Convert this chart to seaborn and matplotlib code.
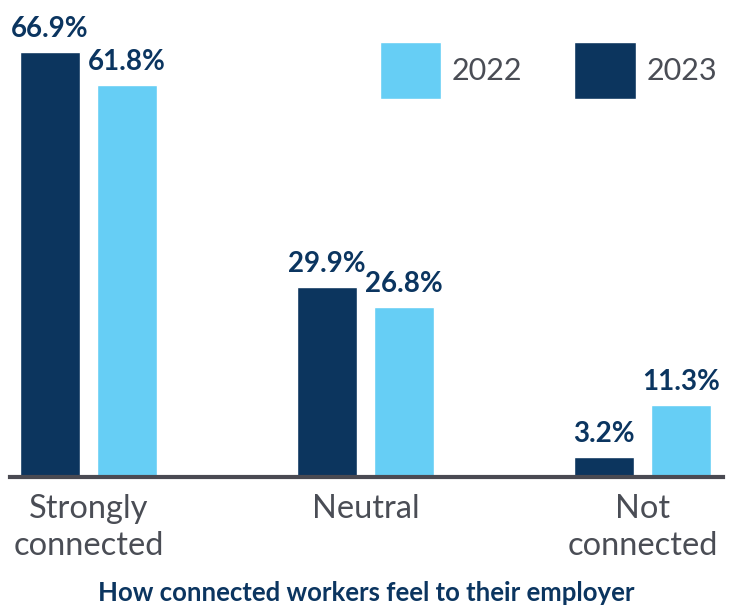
import pandas as pd
import numpy as np
import matplotlib.pyplot as plt
import seaborn as sns
from matplotlib.patches import Patch

# data
categories = ['Strongly\nconnected', 'Neutral', 'Not\nconnected']
years = ['2023', '2022']
values_2023 = [66.9, 29.9, 3.2]
values_2022 = [61.8, 26.8, 11.3]

dark = '#0C355E'
light = '#66CEF5'
navy_text = '#0B3560'
grey_text = '#4A4D55'

df = pd.DataFrame({
    'category': categories * 2,
    'year': ['2023'] * 3 + ['2022'] * 3,
    'value': values_2023 + values_2022,
})

sns.set_style('white')
plt.rcParams['font.family'] = ['Lato', 'DejaVu Sans']

fig = plt.figure(figsize=(7.33, 6.07), dpi=100)
ax = fig.add_axes([0.0136, 0.214, 0.9727, 0.753])

sns.barplot(data=df, x='category', y='value', hue='year', hue_order=years,
            palette={'2023': dark, '2022': light}, width=0.556, gap=0.22,
            saturation=1, ax=ax, legend=False)

# value labels above each bar
for cont in ax.containers:
    for bar in cont:
        h = bar.get_height()
        ax.annotate(f'{h:.1f}%', (bar.get_x() + bar.get_width() / 2, h),
                    xytext=(0, 11), textcoords='offset points',
                    ha='center', va='baseline', fontsize=20,
                    fontweight='bold', color=navy_text)

ax.set_xlim(-0.283, 2.29)
ax.set_ylim(0, 72)
ax.set_yticks([])
ax.set_ylabel('')
ax.tick_params(axis='x', length=0, pad=12, labelsize=23.5, labelcolor=grey_text)
for lab in ax.get_xticklabels():
    lab.set_linespacing(1.3)
ax.set_xlabel('How connected workers feel to their employer', fontsize=18.5,
              fontweight='bold', color=navy_text, va='baseline')
ax.xaxis.set_label_coords(0.499, -0.272)
for s in ['top', 'left', 'right']:
    ax.spines[s].set_visible(False)
ax.spines['bottom'].set_color('#4A4A52')
ax.spines['bottom'].set_linewidth(3)
ax.spines['bottom'].set_zorder(5)

handles = [Patch(facecolor=light, label='2022'), Patch(facecolor=dark, label='2023')]
leg = fig.legend(handles=handles, ncol=2, loc='upper right',
                 bbox_to_anchor=(0.978, 0.93), frameon=False, fontsize=22,
                 handlelength=2.0, handleheight=2.45, handletextpad=0.35,
                 columnspacing=1.7, borderpad=0, borderaxespad=0)
for t in leg.get_texts():
    t.set_color(grey_text)

fig.savefig('out.png', dpi=100)
